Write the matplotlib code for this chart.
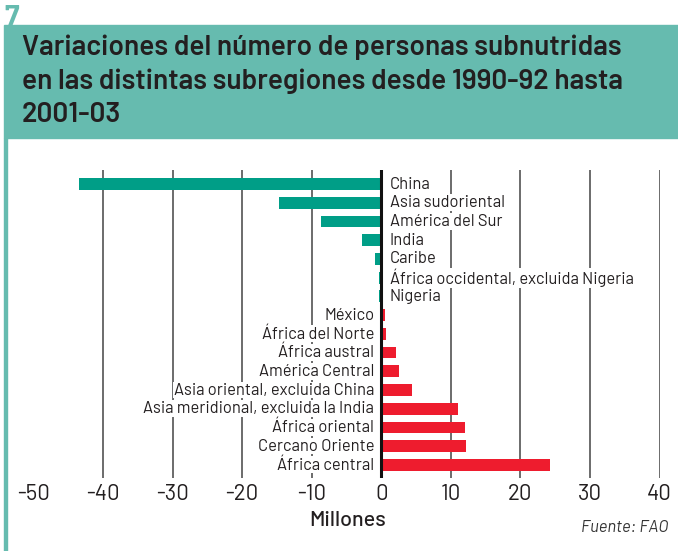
import matplotlib
matplotlib.use("Agg")
import matplotlib.pyplot as plt
import numpy as np

# Data (millones de personas, cambio 1990-92 -> 2001-03)
regiones = ["China", "Asia sudoriental", "América del Sur", "India", "Caribe",
            "África occidental, excluida Nigeria", "Nigeria", "México",
            "África del Norte", "África austral", "América Central",
            "Asia oriental, excluida China", "Asia meridional, excluida la India",
            "África oriental", "Cercano Oriente", "África central"]
cambio = [-43.5, -14.7, -8.7, -2.8, -0.9, -0.3, -0.3, 0.5,
          0.7, 2.1, 2.5, 4.4, 11.0, 12.0, 12.2, 24.2]
ticks = [-50, -40, -30, -20, -10, 0, 10, 20, 30, 40]

TEAL_BAND = "#66bbaf"
TEAL_BAR = "#009e87"
RED_BAR = "#ee1c2e"

plt.rcParams["font.family"] = ["Barlow", "DejaVu Sans"]

fig = plt.figure(figsize=(6.78, 5.51), dpi=100)

# header band, number and left rule
fig.patches.append(plt.Rectangle((4 / 678, 1 - 138 / 551), 1, 113 / 551,
                                 transform=fig.transFigure, color=TEAL_BAND, zorder=0))
fig.patches.append(plt.Rectangle((4 / 678, 0), 3 / 678, 1 - 138 / 551,
                                 transform=fig.transFigure, color=TEAL_BAND, zorder=0))
fig.text(4 / 678, 1 - 25 / 551, "7", color=TEAL_BAND, fontsize=21, fontweight="bold",
         va="baseline", ha="left")
fig.text(22 / 678, 1 - 35 / 551,
         "Variaciones del número de personas subnutridas\nen las distintas subregiones desde 1990-92 hasta\n2001-03",
         fontsize=20.2, fontweight="semibold", color="#231f20", va="top", ha="left",
         linespacing=1.39)

ax = fig.add_axes([33.5 / 678, 1 - 478 / 551, 626 / 678, 308 / 551])
y = np.arange(len(regiones))
colors = [TEAL_BAR if v < 0 else RED_BAR for v in cambio]
ax.barh(y, cambio, height=0.63, color=colors, zorder=2)

for t in ticks:
    if t == 0:
        ax.axvline(t, color="#111111", lw=2.2, zorder=4)
    else:
        ax.axvline(t, color="#444444", lw=1.1, zorder=1)

for yi, name, v in zip(y, regiones, cambio):
    if v < 0:
        ax.annotate(name, (0, yi), xytext=(6, 0), textcoords="offset points",
                    ha="left", va="center", fontsize=11.9, color="#231f20", zorder=3,
                    bbox=dict(boxstyle="square,pad=0.05", fc="white", ec="none"))
    else:
        ax.annotate(name, (0, yi), xytext=(-5, 0), textcoords="offset points",
                    ha="right", va="center", fontsize=11.9, color="#231f20", zorder=3,
                    bbox=dict(boxstyle="square,pad=0.05", fc="white", ec="none"))

ax.set_xlim(-50, 40)
ax.set_ylim(15.7, -0.75)
ax.set_xticks(ticks)
ax.set_xticklabels([str(t) for t in ticks], fontsize=16, color="#231f20")
ax.tick_params(axis="x", length=0, pad=4)
ax.set_yticks([])
for s in ax.spines.values():
    s.set_visible(False)

fig.text(348 / 678, 1 - 521 / 551, "Millones", fontsize=15.5, fontweight="medium",
         color="#231f20", ha="center", va="center")
fig.text(668 / 678, 1 - 528 / 551, "Fuente: FAO", fontsize=12, style="italic",
         color="#333333", ha="right", va="center")

fig.savefig("out.png", dpi=100)
